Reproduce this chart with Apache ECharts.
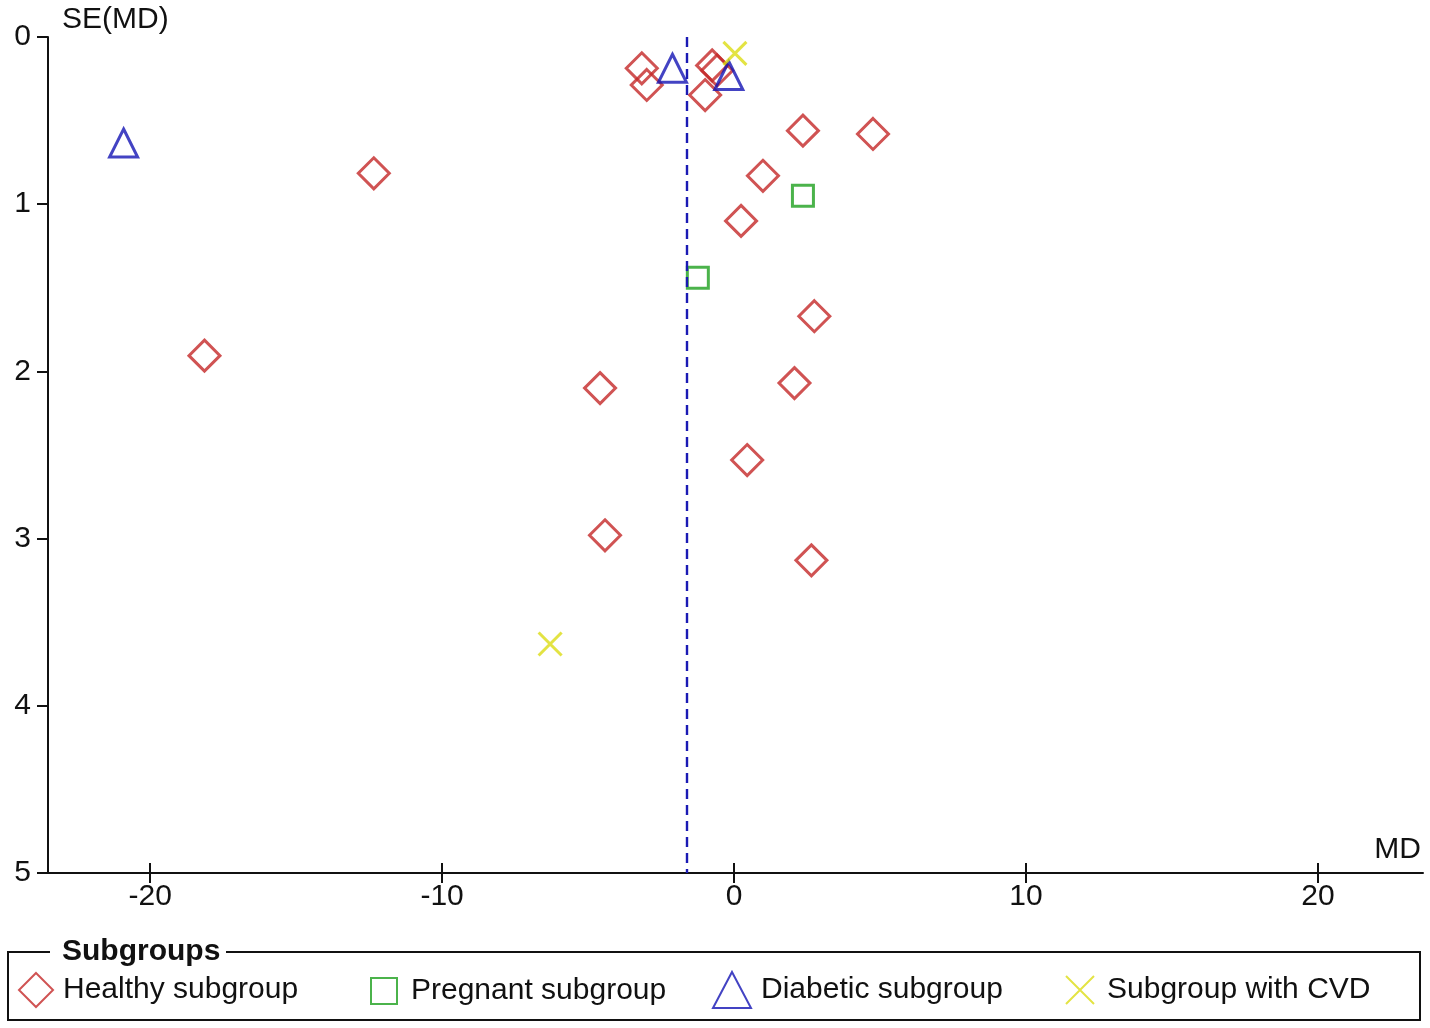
<!DOCTYPE html>
<html>
<head>
<meta charset="utf-8">
<script src="https://cdn.jsdelivr.net/npm/echarts@6/dist/echarts.min.js"></script>
<style>
  html, body { margin: 0; padding: 0; background: #fff; }
  #funnel { width: 1430px; height: 1028px; }
</style>
</head>
<body>
<div id="funnel"></div>
<script>
// study estimates (MD, SE(MD)) per subgroup
const healthyMD = [-3.16, -2.99, -0.75, -0.58, -0.99, 2.36, 4.76, 0.99, 0.24, -12.34, 2.75, -18.14, -4.59, 2.07, 0.45, -4.42, 2.65];
const healthySE = [0.187, 0.287, 0.17, 0.2, 0.347, 0.56, 0.58, 0.83, 1.1, 0.815, 1.67, 1.906, 2.1, 2.07, 2.53, 2.98, 3.13];
const pregnantMD = [2.36, -1.24];
const pregnantSE = [0.95, 1.44];
const diabeticMD = [-2.11, -0.18, -20.91];
const diabeticSE = [0.187, 0.23, 0.634];
const cvdMD = [0.03, -6.3];
const cvdSE = [0.098, 3.63];
const pooledMD = -1.62;
const xTicks = [-20, -10, 0, 10, 20];
const groupNames = ["Healthy subgroup", "Pregnant subgroup", "Diabetic subgroup", "Subgroup with CVD"];

const FONT = "Liberation Sans, Arial, sans-serif";
const FS = 30;
const pts = (xs, ys) => xs.map((x, i) => [x, ys[i]]);

let myChart = echarts.init(document.getElementById("funnel"));

function marker(color) {
  return { color: "rgba(0,0,0,0)", borderColor: color, borderWidth: 3 };
}

function legendFor(name, left, top, w, h, gap) {
  return {
    data: [name],
    left: left,
    top: top,
    padding: 0,
    itemWidth: w,
    itemHeight: h,
    selectedMode: false,
    textStyle: { fontFamily: FONT, fontSize: FS, color: "#111", padding: [0, 0, 0, gap] },
  };
}

myChart.setOption({
  animation: false,
  grid: { left: 48, right: 7, top: 37, bottom: 155, containLabel: false },
  xAxis: [
    {
      type: "value",
      min: -23.5,
      max: 23.6,
      name: "MD",
      nameLocation: "end",
      nameGap: 0,
      nameTextStyle: {
        fontFamily: FONT, fontSize: FS, color: "#111",
        align: "right", verticalAlign: "bottom", padding: [0, 2, 8, 0],
      },
      splitLine: { show: false },
      axisLine: { onZero: false, lineStyle: { color: "#111", width: 2 } },
      axisTick: { customValues: xTicks, length: 10, lineStyle: { color: "#111", width: 2 } },
      axisLabel: { customValues: xTicks, margin: 9, fontFamily: FONT, fontSize: FS, color: "#111" },
    },
    {
      // second copy only to draw the upward half of the x ticks
      type: "value",
      min: -23.5,
      max: 23.6,
      position: "bottom",
      splitLine: { show: false },
      axisLine: { show: false, onZero: false },
      axisTick: { customValues: xTicks, inside: true, length: 10, lineStyle: { color: "#111", width: 2 } },
      axisLabel: { show: false },
    },
  ],
  yAxis: {
    type: "value",
    inverse: true,
    min: 0,
    max: 5,
    interval: 1,
    name: "SE(MD)",
    nameLocation: "start",
    nameGap: 2,
    nameTextStyle: {
      fontFamily: FONT, fontSize: FS, color: "#111",
      align: "left", verticalAlign: "bottom", padding: [0, 0, 0, 14],
    },
    splitLine: { show: false },
    axisLine: { onZero: false, lineStyle: { color: "#111", width: 2 } },
    axisTick: { length: 11, lineStyle: { color: "#111", width: 2 } },
    axisLabel: { margin: 17, fontFamily: FONT, fontSize: FS, color: "#111" },
  },
  legend: [
    legendFor(groupNames[0], 18, 972, 34, 34, 5),
    legendFor(groupNames[1], 370, 976, 26, 26, 9),
    legendFor(groupNames[2], 712, 971, 38, 36, 5),
    legendFor(groupNames[3], 1065, 975, 32, 28, 6),
  ],
  graphic: [
    {
      type: "polyline",
      shape: { points: [[50, 952], [8, 952], [8, 1020], [1420, 1020], [1420, 952], [226, 952]] },
      style: { fill: null, stroke: "#111", lineWidth: 2 },
      silent: true,
    },
    {
      type: "text",
      x: 62,
      y: 952,
      style: {
        text: "Subgroups",
        font: "bold " + FS + "px " + FONT,
        fill: "#111",
        verticalAlign: "middle",
      },
      silent: true,
    },
  ],
  series: [
    {
      name: groupNames[0],
      type: "scatter",
      symbol: "diamond",
      symbolSize: 31,
      itemStyle: marker("#c42828"),
      data: pts(healthyMD, healthySE),
      markLine: {
        silent: true,
        symbol: ["none", "none"],
        label: { show: false },
        lineStyle: { color: "#1a1ab4", width: 2.4, type: [10, 6] },
        data: [{ xAxis: pooledMD }],
      },
    },
    {
      name: groupNames[1],
      type: "scatter",
      symbol: "rect",
      symbolSize: 21,
      itemStyle: marker("#1ea01e"),
      data: pts(pregnantMD, pregnantSE),
    },
    {
      name: groupNames[2],
      type: "scatter",
      symbol: "triangle",
      symbolSize: 28,
      itemStyle: marker("#1414b4"),
      data: pts(diabeticMD, diabeticSE),
    },
    {
      name: groupNames[3],
      type: "scatter",
      symbol: "path://M0 0L10 10M10 0L0 10",
      symbolSize: 23,
      itemStyle: marker("#dcdc14"),
      data: pts(cvdMD, cvdSE),
    },
  ],
});
</script>
</body>
</html>
